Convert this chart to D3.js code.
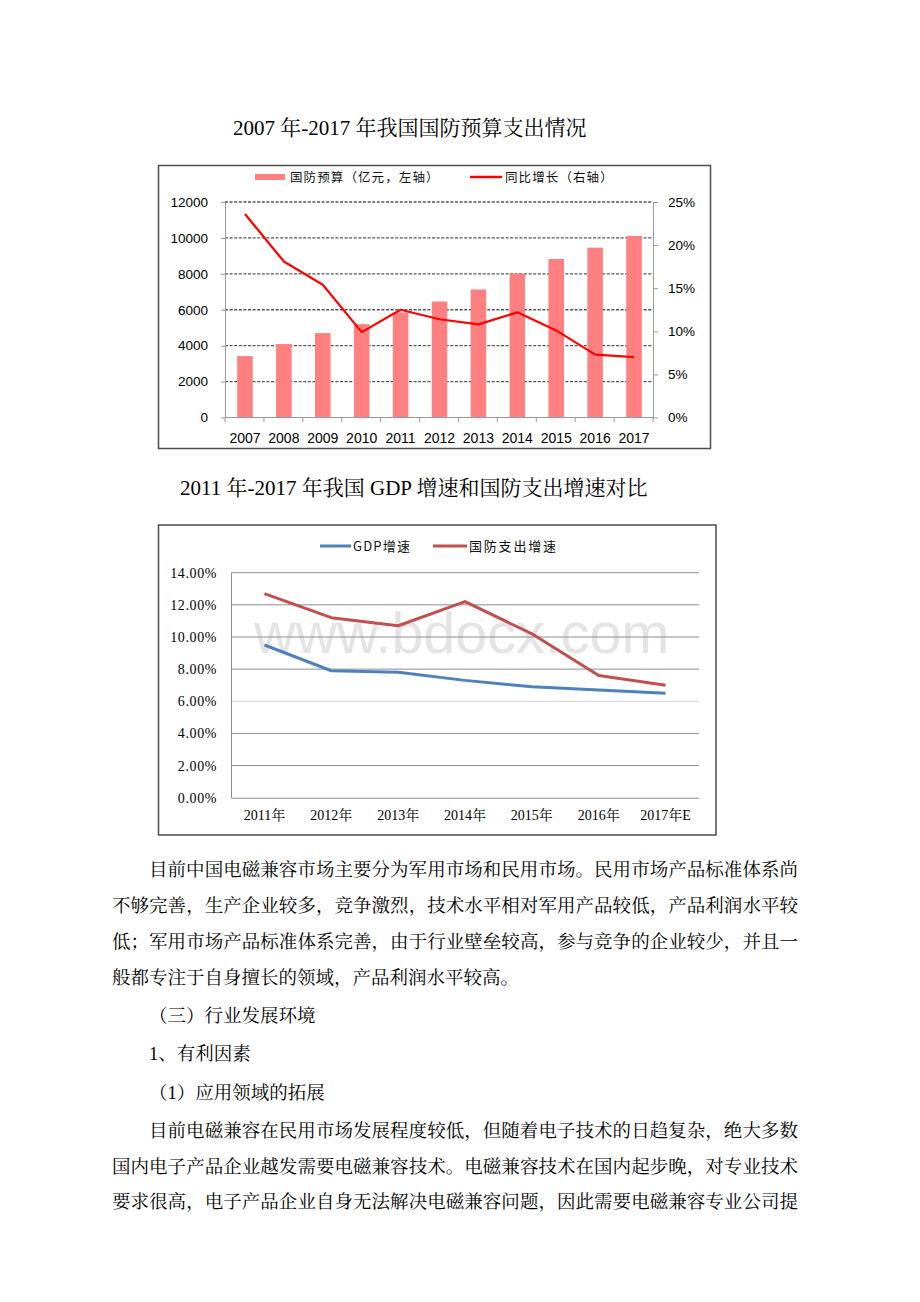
<!DOCTYPE html>
<html><head><meta charset="utf-8">
<script src="https://cdn.jsdelivr.net/npm/d3@7"></script>
<style>body{margin:0;background:#fff} svg{display:block}</style>
</head><body><div id="c"></div>
<script>
// ---------- data ----------
const years1 = ["2007","2008","2009","2010","2011","2012","2013","2014","2015","2016","2017"];
const budget = [3420, 4090, 4700, 5200, 5850, 6460, 7130, 8020, 8830, 9460, 10110];
const growth = [23.6, 18.1, 15.4, 9.9, 12.5, 11.4, 10.8, 12.2, 10.1, 7.3, 7.0];
const budgetTicks = [0, 2000, 4000, 6000, 8000, 10000, 12000];
const growthTicks = [0, 5, 10, 15, 20, 25];

const years2 = ["2011年","2012年","2013年","2014年","2015年","2016年","2017年E"];
const gdpGrowth = [9.5, 7.9, 7.8, 7.3, 6.9, 6.7, 6.5];
const defenseGrowth = [12.7, 11.2, 10.7, 12.2, 10.2, 7.6, 7.0];
const pctTicks = [0, 2, 4, 6, 8, 10, 12, 14];

const title1 = "2007 年-2017 年我国国防预算支出情况";
const title2 = "2011 年-2017 年我国 GDP 增速和国防支出增速对比";
const legend1 = ["国防预算（亿元，左轴）", "同比增长（右轴）"];
const legend2 = ["GDP增速", "国防支出增速"];
const watermark = "www.bdocx.com";

const para1 = [
  "目前中国电磁兼容市场主要分为军用市场和民用市场。民用市场产品标准体系尚",
  "不够完善，生产企业较多，竞争激烈，技术水平相对军用产品较低，产品利润水平较",
  "低；军用市场产品标准体系完善，由于行业壁垒较高，参与竞争的企业较少，并且一",
  "般都专注于自身擅长的领域，产品利润水平较高。"
];
const headings = ["（三）行业发展环境", "1、有利因素", "（1）应用领域的拓展"];
const para2 = [
  "目前电磁兼容在民用市场发展程度较低，但随着电子技术的日趋复杂，绝大多数",
  "国内电子产品企业越发需要电磁兼容技术。电磁兼容技术在国内起步晚，对专业技术",
  "要求很高，电子产品企业自身无法解决电磁兼容问题，因此需要电磁兼容专业公司提"
];

// ---------- setup ----------
const W = 920, H = 1302;
const svg = d3.select("#c").append("svg").attr("width", W).attr("height", H);
svg.append("rect").attr("width", W).attr("height", H).attr("fill", "#fff");

const serif = '"Liberation Serif","Noto Serif CJK SC","Noto Sans CJK SC",serif';
const sans = '"Liberation Sans",Arial,"Noto Sans CJK SC",sans-serif';
const cjkSans = '"Noto Sans CJK SC","Liberation Sans",sans-serif';

// titles
svg.append("text").attr("x", 233).attr("y", 135).attr("font-family", serif)
  .attr("font-size", 21).attr("fill", "#000").text(title1);
svg.append("text").attr("x", 180).attr("y", 495).attr("font-family", serif)
  .attr("font-size", 21).attr("fill", "#000").text(title2);

// ---------- chart 1 ----------
const c1 = svg.append("g");
c1.append("rect").attr("x", 158.5).attr("y", 165.5).attr("width", 552).attr("height", 283)
  .attr("fill", "none").attr("stroke", "#4d4d4d").attr("stroke-width", 1.5);

const x1 = d3.scaleBand().domain(years1).range([225.5, 653.5]).paddingInner(0.6).paddingOuter(0.3);
const y1 = d3.scaleLinear().domain([0, 12000]).range([417.5, 202]);
const y1r = d3.scaleLinear().domain([0, 25]).range([417.5, 202]);

// dashed gridlines
c1.append("g").selectAll("line").data(budgetTicks.filter(d => d > 0)).join("line")
  .attr("x1", 225).attr("x2", 653).attr("y1", d => y1(d)).attr("y2", d => y1(d))
  .attr("stroke", "#555").attr("stroke-width", 1.3).attr("stroke-dasharray", "3,1.6");

// bars
c1.append("g").selectAll("rect").data(years1).join("rect")
  .attr("x", d => x1(d)).attr("width", x1.bandwidth())
  .attr("y", (d, i) => y1(budget[i])).attr("height", (d, i) => y1(0) - y1(budget[i]))
  .attr("fill", "#ff8080");

// axes
function styleAxis(g, fs, fam) {
  g.select(".domain").attr("stroke", "#999");
  g.selectAll(".tick line").attr("stroke", "#999");
  g.selectAll("text").attr("font-size", fs).attr("font-family", fam).attr("fill", "#000");
}
const axL = c1.append("g").attr("transform", "translate(225,0)")
  .call(d3.axisLeft(y1).tickValues(budgetTicks).tickSize(4).tickPadding(13).tickSizeOuter(0).tickFormat(d3.format("d")));
styleAxis(axL, 13.5, sans);
const axR = c1.append("g").attr("transform", "translate(653,0)")
  .call(d3.axisRight(y1r).tickValues(growthTicks).tickSize(5).tickPadding(10).tickSizeOuter(0).tickFormat(d => d + "%"));
styleAxis(axR, 13.5, sans);
const axB = c1.append("g").attr("transform", "translate(0,417.5)")
  .call(d3.axisBottom(x1).tickSize(0).tickPadding(15.5).tickSizeOuter(0));
styleAxis(axB, 14, sans);
axB.select(".domain").attr("d", "M225,0H653");
// band boundary ticks
c1.append("g").selectAll("line").data(d3.range(years1.length + 1)).join("line")
  .attr("x1", i => 225 + i * (428 / years1.length)).attr("x2", i => 225 + i * (428 / years1.length))
  .attr("y1", 417.5).attr("y2", 422).attr("stroke", "#999");

// growth line
const line1 = d3.line().x((d, i) => x1(years1[i]) + x1.bandwidth() / 2).y(d => y1r(d));
c1.append("path").datum(growth).attr("d", line1).attr("fill", "none")
  .attr("stroke", "#ff0000").attr("stroke-width", 2.2).attr("stroke-linejoin", "round");

// legend 1
c1.append("rect").attr("x", 255).attr("y", 174).attr("width", 30).attr("height", 6).attr("fill", "#ff8080");
c1.append("text").attr("x", 290).attr("y", 182).attr("font-family", cjkSans).attr("font-size", 12.5)
  .attr("letter-spacing", 1.1).attr("fill", "#111").text(legend1[0]);
c1.append("line").attr("x1", 470).attr("x2", 502).attr("y1", 177).attr("y2", 177)
  .attr("stroke", "#ff0000").attr("stroke-width", 2.5);
c1.append("text").attr("x", 505).attr("y", 182).attr("font-family", cjkSans).attr("font-size", 12.5)
  .attr("letter-spacing", 1.1).attr("fill", "#111").text(legend1[1]);

// ---------- chart 2 ----------
const c2 = svg.append("g");
c2.append("rect").attr("x", 158.5).attr("y", 525).attr("width", 557.5).attr("height", 310)
  .attr("fill", "none").attr("stroke", "#4d4d4d").attr("stroke-width", 1.5);

const x2 = d3.scaleBand().domain(years2).range([231, 699]);
const y2 = d3.scaleLinear().domain([0, 14]).range([797.7, 572.7]);

// watermark
c2.append("text").attr("x", 254).attr("y", 653).attr("font-family", sans).attr("font-size", 57.5)
  .attr("fill", "#e4e4e4").text(watermark);

c2.append("g").selectAll("line").data(pctTicks.filter(d => d > 0)).join("line")
  .attr("x1", 231).attr("x2", 699).attr("y1", d => y2(d)).attr("y2", d => y2(d))
  .attr("stroke", d => d === 6 ? "#d6d6d6" : "#8e8e8e").attr("stroke-width", 1);

const ax2L = c2.append("g").attr("transform", "translate(231,0)")
  .call(d3.axisLeft(y2).tickValues(pctTicks).tickSize(0).tickPadding(14).tickSizeOuter(0).tickFormat(d => d.toFixed(2) + "%"));
styleAxis(ax2L, 14, serif);
ax2L.selectAll("text").attr("letter-spacing", 0.6);
ax2L.select(".domain").attr("stroke", "#8e8e8e");
const ax2B = c2.append("g").attr("transform", "translate(0,797.7)")
  .call(d3.axisBottom(x2).tickSize(0).tickPadding(12).tickSizeOuter(0));
styleAxis(ax2B, 14, serif);
ax2B.select(".domain").attr("stroke", "#8e8e8e");

const line2 = d3.line().x((d, i) => x2(years2[i]) + x2.bandwidth() / 2).y(d => y2(d));
c2.append("path").datum(gdpGrowth).attr("d", line2).attr("fill", "none")
  .attr("stroke", "#4f81bd").attr("stroke-width", 3).attr("stroke-linejoin", "round");
c2.append("path").datum(defenseGrowth).attr("d", line2).attr("fill", "none")
  .attr("stroke", "#c0504d").attr("stroke-width", 3).attr("stroke-linejoin", "round");

// legend 2
c2.append("line").attr("x1", 320).attr("x2", 351).attr("y1", 546).attr("y2", 546)
  .attr("stroke", "#4f81bd").attr("stroke-width", 3);
c2.append("text").attr("x", 353).attr("y", 551).attr("font-family", cjkSans).attr("font-size", 13)
  .attr("letter-spacing", 1.2).attr("fill", "#111").text(legend2[0]);
c2.append("line").attr("x1", 433).attr("x2", 467).attr("y1", 546).attr("y2", 546)
  .attr("stroke", "#c0504d").attr("stroke-width", 3);
c2.append("text").attr("x", 469).attr("y", 551).attr("font-family", cjkSans).attr("font-size", 13)
  .attr("letter-spacing", 1.8).attr("fill", "#111").text(legend2[1]);

// ---------- body text ----------
const body = svg.append("g").attr("font-family", serif).attr("font-size", 18.5).attr("fill", "#000");
const L = 112, R = 798, IND = 149;
function para(lines, y0, step) {
  lines.forEach((t, i) => {
    const x = i === 0 ? IND : L;
    const tx = body.append("text").attr("x", x).attr("y", y0 + i * step).text(t);
    if (i < lines.length - 1 || t.length >= 36) {
      tx.attr("textLength", R - x).attr("lengthAdjust", "spacing");
    }
  });
}
para(para1, 876, 36);
body.append("text").attr("x", IND).attr("y", 1022).text(headings[0]);
body.append("text").attr("x", IND).attr("y", 1060).text(headings[1]);
body.append("text").attr("x", IND).attr("y", 1099).text(headings[2]);
para(para2, 1137, 35.5);
</script></body></html>
